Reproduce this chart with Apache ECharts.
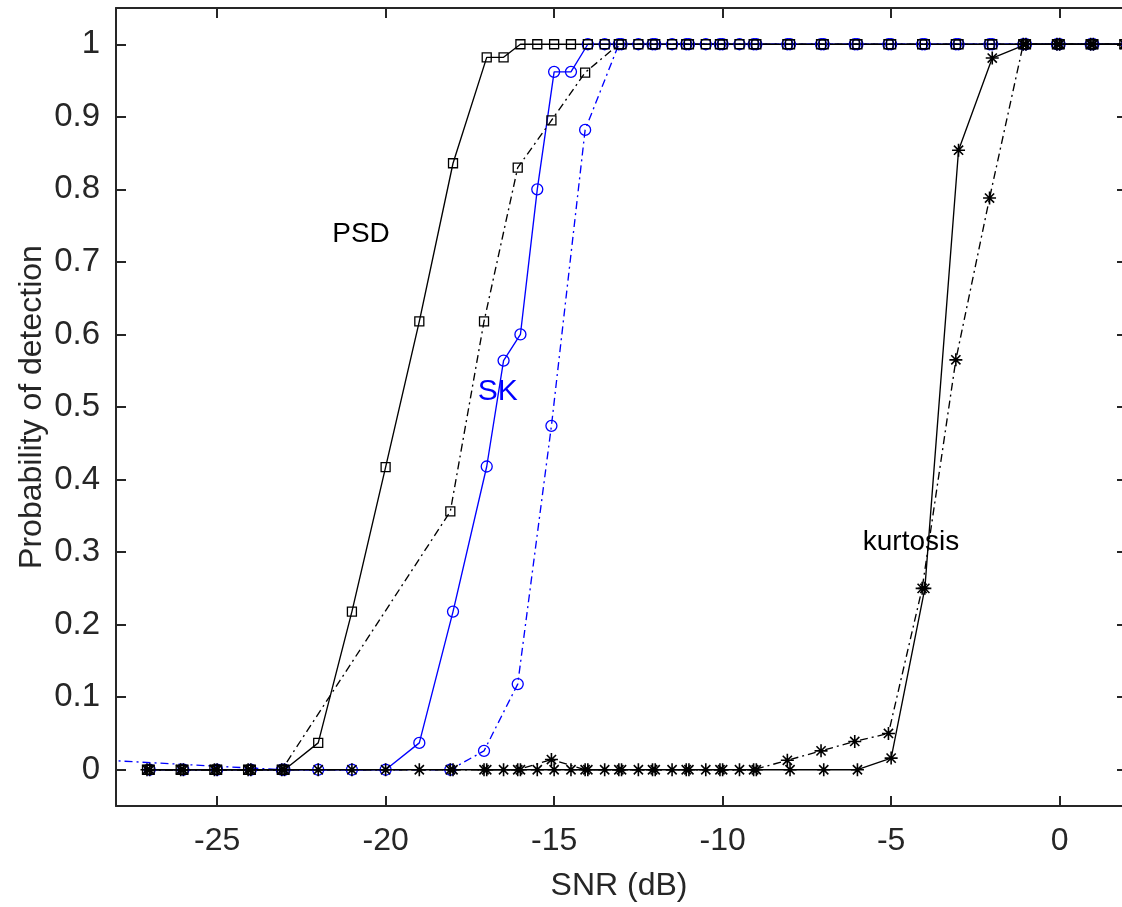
<!DOCTYPE html>
<html>
<head>
<meta charset="utf-8">
<script src="https://cdn.jsdelivr.net/npm/echarts@6/dist/echarts.min.js"></script>
<style>
  html, body { margin: 0; padding: 0; background: #ffffff; }
  #chart { width: 1122px; height: 907px; }
</style>
</head>
<body>
<div id="chart"></div>
<script>
// SNR (dB) at which the solid-line curves were evaluated
const snrSolid = [-27, -26, -25, -24, -23, -22, -21, -20, -19, -18, -17,
  -16.5, -16, -15.5, -15, -14.5, -14, -13.5, -13, -12.5, -12, -11.5, -11, -10.5, -10, -9.5, -9,
  -8, -7, -6, -5, -4, -3, -2, -1, 0, 1, 2];

// SNR (dB) at which the dash-dot curves were evaluated
const snrDash = [-27.08, -26.08, -25.08, -24.08, -23.08,
  -18.08, -17.08, -16.08, -15.08, -14.08, -13.08, -12.08, -11.08, -10.08, -9.08,
  -8.08, -7.08, -6.08, -5.08, -4.08, -3.08, -2.08, -1.08, -0.08, 0.92, 1.92];

const snrSkDash = [-33.08, -23.08,
  -18.08, -17.08, -16.08, -15.08, -14.08, -13.08, -12.08, -11.08, -10.08, -9.08,
  -8.08, -7.08, -6.08, -5.08, -4.08, -3.08, -2.08, -1.08, -0.08, 0.92, 1.92];

// Probability of detection, solid curves
const psdSolid = [0, 0, 0, 0, 0, 0.037, 0.218, 0.417, 0.618, 0.836, 0.982,
  0.982, 1, 1, 1, 1, 1, 1, 1, 1, 1, 1, 1, 1, 1, 1, 1,
  1, 1, 1, 1, 1, 1, 1, 1, 1, 1, 1];
const skSolid = [0, 0, 0, 0, 0, 0, 0, 0, 0.037, 0.218, 0.418,
  0.564, 0.6, 0.8, 0.962, 0.962, 1, 1, 1, 1, 1, 1, 1, 1, 1, 1, 1,
  1, 1, 1, 1, 1, 1, 1, 1, 1, 1, 1];
const kurtSolid = [0, 0, 0, 0, 0, 0, 0, 0, 0, 0, 0,
  0, 0, 0, 0, 0, 0, 0, 0, 0, 0, 0, 0, 0, 0, 0, 0,
  0, 0, 0, 0.016, 0.25, 0.854, 0.981, 1, 1, 1, 1];

// Probability of detection, dash-dot curves
const psdDash = [0, 0, 0, 0, 0,
  0.356, 0.618, 0.83, 0.895, 0.961, 1, 1, 1, 1, 1,
  1, 1, 1, 1, 1, 1, 1, 1, 1, 1, 1];
const kurtDash = [0, 0, 0, 0, 0,
  0, 0, 0, 0.014, 0, 0, 0, 0, 0, 0,
  0.013, 0.026, 0.039, 0.05, 0.25, 0.565, 0.788, 1, 1, 1, 1];
const skDash = [0.025, 0,
  0, 0.026, 0.118, 0.474, 0.882, 1, 1, 1, 1, 1,
  1, 1, 1, 1, 1, 1, 1, 1, 1, 1, 1];

// Tick values
const xTicks = [-25, -20, -15, -10, -5, 0];
const yTicks = [0, 0.1, 0.2, 0.3, 0.4, 0.5, 0.6, 0.7, 0.8, 0.9, 1];

// Curve labels placed in data coordinates
const labelText = ['PSD', 'SK', 'kurtosis'];
const labelX = [-20.73, -16.67, -4.41];
const labelY = [0.738, 0.521, 0.314];

const FONT = '"Liberation Sans", Arial, Helvetica, sans-serif';
const AXIS_COLOR = '#262626';
const BLUE = '#0000ff';
const BLACK = '#000000';
const DASH_DOT = [8, 4, 2, 4];
const STAR = 'path://M0,6L12,6M6,0L6,12M1.76,1.76L10.24,10.24M10.24,1.76L1.76,10.24';
// visible part of the SNR axis; the plot box ends just past the canvas edge
const X_MIN = -28;
const X_MAX_VISIBLE = 1.85;

function pairs(xs, ys) {
  return xs.map((x, i) => [x, ys[i]]);
}

function curve(name, xs, ys, color, dashed, symbol, size, clip) {
  const star = symbol === STAR;
  return {
    name: name,
    type: 'line',
    data: pairs(xs, ys),
    xAxisIndex: 0,
    yAxisIndex: 0,
    symbol: symbol,
    symbolSize: size,
    showSymbol: true,
    showAllSymbol: true,
    clip: clip,
    silent: true,
    lineStyle: { color: color, width: 1.35, type: dashed ? DASH_DOT : 'solid' },
    itemStyle: {
      color: star ? color : 'rgba(0,0,0,0)',
      borderColor: color,
      borderWidth: star ? 1.6 : 1.3
    },
    emphasis: { disabled: true }
  };
}

const chart = echarts.init(document.getElementById('chart'), null, { renderer: 'canvas' });

const baseX = {
  type: 'value',
  min: X_MIN,
  max: X_MAX_VISIBLE,
  splitLine: { show: false },
  axisLine: { show: true, onZero: false, lineStyle: { color: AXIS_COLOR, width: 2 } },
  axisTick: { show: true, inside: true, length: 10, customValues: xTicks,
    lineStyle: { color: AXIS_COLOR, width: 2 } }
};
const baseY = {
  type: 'value',
  min: -0.05,
  max: 1.05,
  splitLine: { show: false },
  axisTick: { show: true, inside: true, length: 10, customValues: yTicks,
    lineStyle: { color: AXIS_COLOR, width: 2 } }
};

chart.setOption({
  animation: false,
  backgroundColor: '#ffffff',
  textStyle: { fontFamily: FONT },
  grid: { left: 116, top: 8, right: 0, bottom: 100, containLabel: false },
  xAxis: [
    Object.assign({}, baseX, {
      position: 'bottom',
      axisLabel: { show: true, customValues: xTicks, fontSize: 32, color: AXIS_COLOR,
        fontFamily: FONT, margin: 19 },
      name: 'SNR (dB)',
      nameLocation: 'middle',
      nameGap: 64,
      nameMoveOverlap: false,
      nameTextStyle: { fontSize: 32, color: AXIS_COLOR, fontFamily: FONT }
    }),
    Object.assign({}, baseX, {
      position: 'top',
      axisLabel: { show: false }
    })
  ],
  yAxis: [
    Object.assign({}, baseY, {
      position: 'left',
      axisLine: { show: true, onZero: false, lineStyle: { color: AXIS_COLOR, width: 2 } },
      axisLabel: { show: true, customValues: yTicks, fontSize: 33, color: AXIS_COLOR,
        fontFamily: FONT, margin: 16 },
      name: 'Probability of detection',
      nameLocation: 'middle',
      nameGap: 68,
      nameMoveOverlap: false,
      nameTextStyle: { fontSize: 32, color: AXIS_COLOR, fontFamily: FONT }
    }),
    Object.assign({}, baseY, {
      position: 'right',
      axisLine: { show: false, onZero: false },
      axisTick: { show: true, inside: true, length: 5, customValues: yTicks,
        lineStyle: { color: AXIS_COLOR, width: 2 } },
      axisLabel: { show: false }
    })
  ],
  series: [
    curve('SK dash-dot', snrSkDash, skDash, BLUE, true, 'circle', 11, true),
    curve('SK', snrSolid, skSolid, BLUE, false, 'circle', 11, false),
    curve('PSD', snrSolid, psdSolid, BLACK, false, 'rect', 9, false),
    curve('PSD dash-dot', snrDash, psdDash, BLACK, true, 'rect', 9, false),
    curve('kurtosis', snrSolid, kurtSolid, BLACK, false, STAR, 13, false),
    curve('kurtosis dash-dot', snrDash, kurtDash, BLACK, true, STAR, 13, false),
    {
      name: 'labels',
      type: 'scatter',
      silent: true,
      symbolSize: 1,
      itemStyle: { color: 'rgba(0,0,0,0)' },
      z: 5,
      data: labelText.map((t, i) => ({
        name: t,
        value: [labelX[i], labelY[i]],
        label: {
          show: true,
          position: 'inside',
          formatter: '{b}',
          fontFamily: FONT,
          fontSize: t === 'SK' ? 30 : 28,
          color: t === 'SK' ? BLUE : BLACK,
          textBorderWidth: 0,
          opacity: 1
        }
      }))
    }
  ]
});
</script>
</body>
</html>
